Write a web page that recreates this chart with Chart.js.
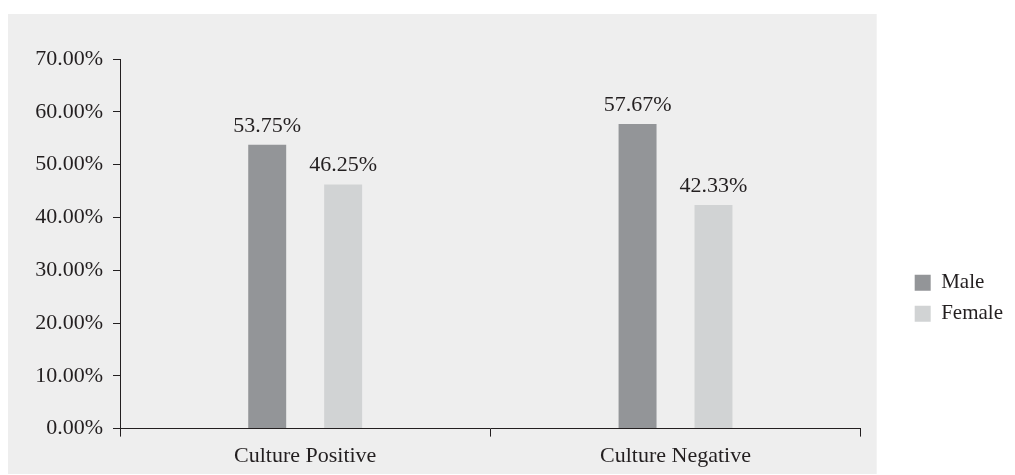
<!DOCTYPE html>
<html>
<head>
<meta charset="utf-8">
<script src="https://cdn.jsdelivr.net/npm/chart.js@4/dist/chart.umd.min.js"></script>
<style>
    html, body { margin: 0; padding: 0; background: #ffffff; }
    #wrap { width: 1015px; height: 475px; }
</style>
</head>
<body>
<div id="wrap"><canvas id="myChart" width="1015" height="475"></canvas></div>
<script>

var categories = ['Culture Positive', 'Culture Negative'];

var seriesNames = ['Male', 'Female'];

var maleValues = [53.75, 57.67];

var femaleValues = [46.25, 42.33];

var yTickMax = 70;
var yTickStep = 10;

var textColor = '#231f20';
var fontFamily = '"Liberation Serif", "Times New Roman", serif';

// grey panel behind plot + axes (legend sits outside it)
var panelPlugin = {
    id: 'panel',
    beforeDraw: function (chart) {
        var ctx = chart.ctx;
        var area = chart.chartArea;
        ctx.save();
        ctx.fillStyle = '#eeeeee';
        ctx.fillRect(8, 14, area.right + 16 - 8, chart.height - 1 - 14);
        ctx.restore();
    }
};

// value text above each bar
var valueLabelPlugin = {
    id: 'valueLabels',
    afterDatasetsDraw: function (chart) {
        var ctx = chart.ctx;
        ctx.save();
        ctx.font = '22px ' + fontFamily;
        ctx.fillStyle = textColor;
        ctx.textAlign = 'center';
        ctx.textBaseline = 'alphabetic';
        chart.data.datasets.forEach(function (ds, i) {
            chart.getDatasetMeta(i).data.forEach(function (bar, j) {
                ctx.fillText(ds.data[j].toFixed(2) + '%', bar.x, bar.y - 13);
            });
        });
        ctx.restore();
    }
};

var data = {
    labels: categories,
    datasets: [
        {
            label: seriesNames[0],
            data: maleValues,
            backgroundColor: '#939598',
            borderWidth: 0,
            categoryPercentage: 0.41,
            barPercentage: 0.5
        },
        {
            label: seriesNames[1],
            data: femaleValues,
            backgroundColor: '#d1d3d4',
            borderWidth: 0,
            categoryPercentage: 0.41,
            barPercentage: 0.5
        }
    ]
};

var config = {
    type: 'bar',
    data: data,
    options: {
        responsive: false,
        animation: false,
        layout: {
            padding: { top: 59, bottom: 0, left: 0, right: 2 }
        },
        plugins: {
            tooltip: { enabled: false },
            legend: {
                position: 'right',
                align: 'start',
                // empty title only pushes the two items down
                title: {
                    display: true,
                    text: '',
                    padding: { top: 0, bottom: 178 },
                    font: { size: 21, lineHeight: 1.2, family: fontFamily }
                },
                labels: {
                    boxWidth: 16,
                    boxHeight: 16,
                    padding: 10,
                    color: textColor,
                    font: { size: 21, family: fontFamily }
                }
            }
        },
        scales: {
            x: {
                grid: {
                    drawOnChartArea: false,
                    drawTicks: true,
                    tickLength: 8,
                    color: textColor
                },
                border: { display: true, color: textColor, width: 1 },
                ticks: {
                    color: textColor,
                    padding: 6,
                    font: { size: 22, family: fontFamily }
                }
            },
            y: {
                min: 0,
                max: yTickMax,
                afterFit: function (s) { s.width = 120; },
                grid: {
                    drawOnChartArea: false,
                    drawTicks: true,
                    tickLength: 7,
                    color: textColor
                },
                border: { display: true, color: textColor, width: 1 },
                ticks: {
                    stepSize: yTickStep,
                    color: textColor,
                    padding: 10,
                    font: { size: 22, family: fontFamily },
                    callback: function (v) { return v.toFixed(2) + '%'; }
                }
            },
            // empty strip between plot and legend
            spacer: {
                type: 'linear',
                position: 'right',
                display: true,
                afterFit: function (s) { s.width = 44; },
                grid: { display: false },
                border: { display: false },
                ticks: { display: false }
            }
        }
    },
    plugins: [panelPlugin, valueLabelPlugin]
};

var myChart = new Chart(document.getElementById('myChart'), config);

</script>
</body>
</html>
